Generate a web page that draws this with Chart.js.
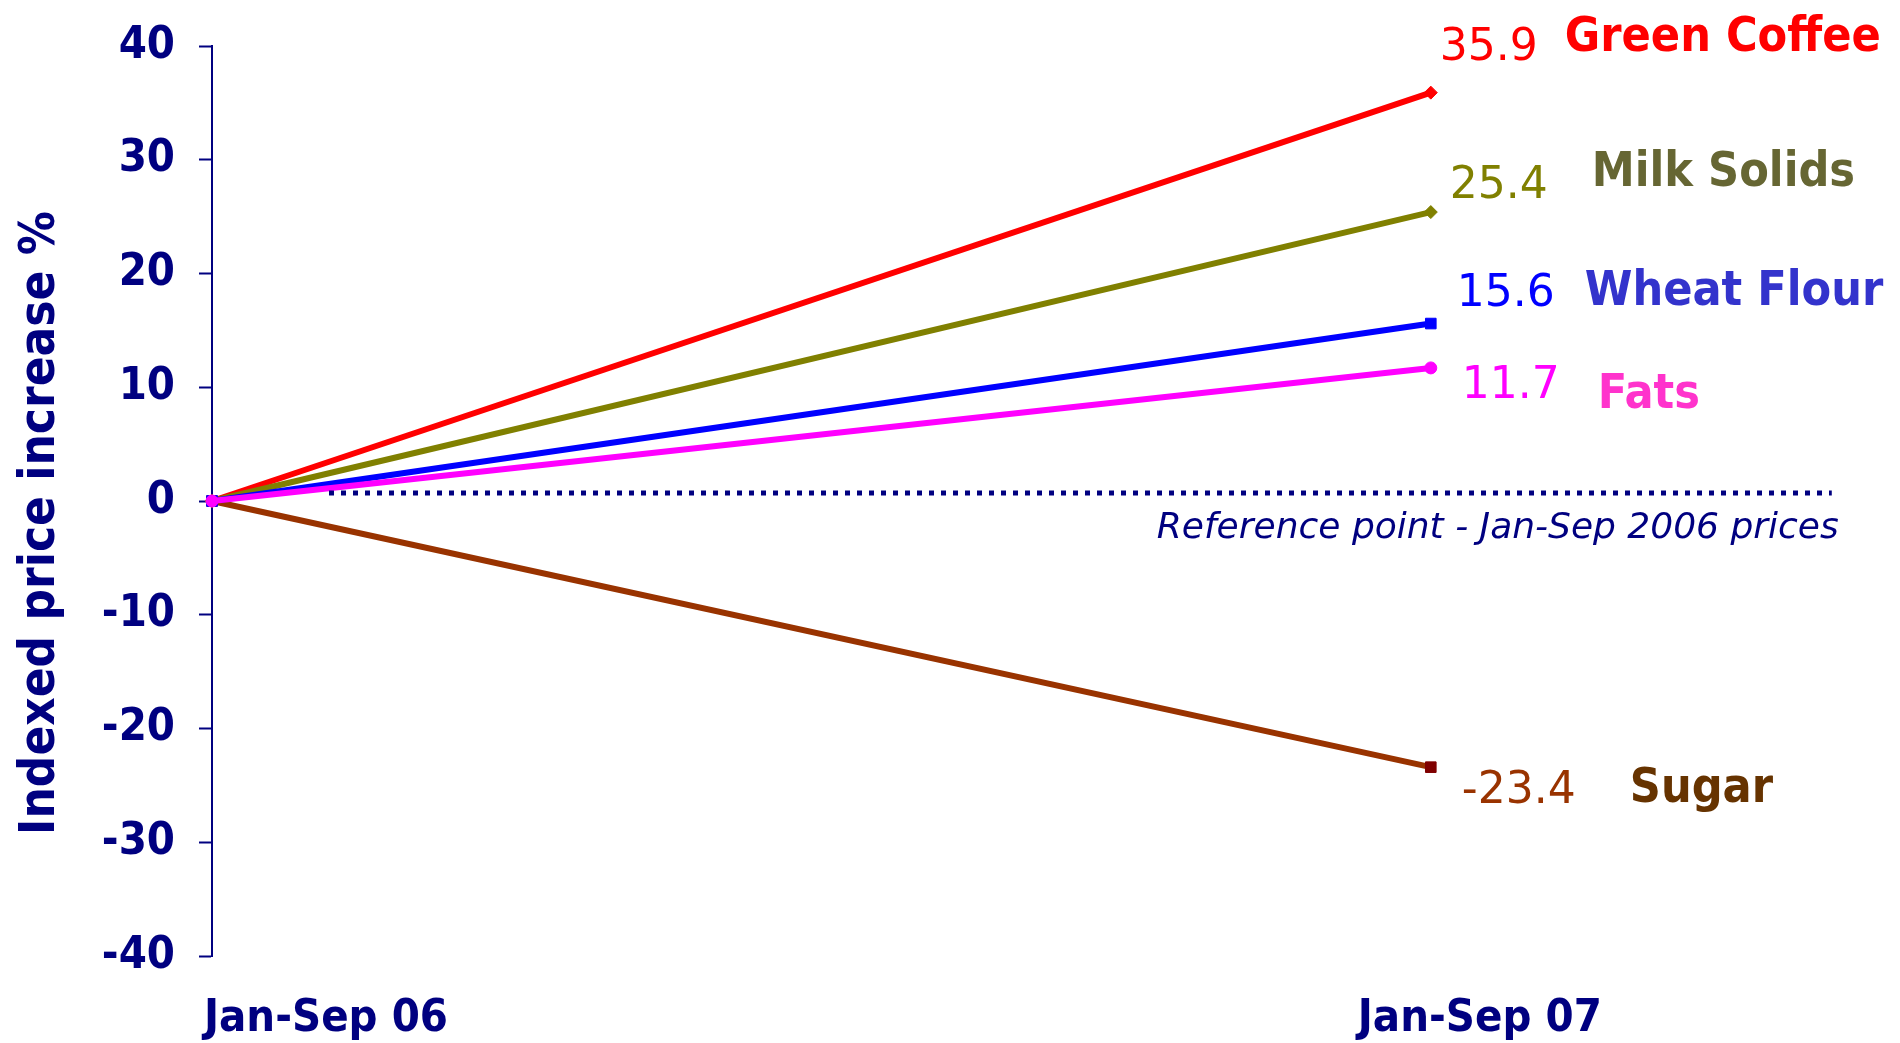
<!DOCTYPE html>
<html>
<head>
<meta charset="utf-8">
<script src="https://cdn.jsdelivr.net/npm/chart.js@4.4.1/dist/chart.umd.min.js"></script>
<style>
  html, body { margin: 0; padding: 0; background: #ffffff; overflow: hidden; }
  #wrap { width: 1900px; height: 1043px; }
</style>
</head>
<body>
<div id="wrap"><canvas id="chart" width="1900" height="1043"></canvas></div>
<script>
// ---- data ----
const periods = ['Jan-Sep 06', 'Jan-Sep 07'];
const seriesNames = ['Green Coffee', 'Milk Solids', 'Wheat Flour', 'Fats', 'Sugar'];
const greenCoffee = [0, 35.9];
const milkSolids  = [0, 25.4];
const wheatFlour  = [0, 15.6];
const fats        = [0, 11.7];
const sugar       = [0, -23.4];
const yTickValues = [-40, -30, -20, -10, 0, 10, 20, 30, 40];
const referenceLevel = [0.7, 0.7];
const referenceSpan  = [0.096, 1.329];
const referenceText  = 'Reference point - Jan-Sep 2006 prices';
const yAxisTitle     = 'Indexed price increase %';

const seriesValues = [greenCoffee, milkSolids, wheatFlour, fats, sugar];

// ---- styles ----
const NAVY = '#000080';
const BOLD_FAMILY = "'DejaVu Sans Condensed', 'DejaVu Sans', sans-serif";
const TEXT_FAMILY = "'DejaVu Sans', sans-serif";

const seriesStyle = [
  { line: '#FF0000', point: '#FF0000', shape: 'rectRot', radius: 6.5, order: 3, value: '#FF0000', name: '#FF0000' },
  { line: '#808000', point: '#808000', shape: 'rectRot', radius: 6.5, order: 2, value: '#808000', name: '#666633' },
  { line: '#0000FF', point: '#0000FF', shape: 'rect',    radius: 7.5, order: 1, value: '#0000FF', name: '#3333CC' },
  { line: '#FF00FF', point: '#FF00FF', shape: 'circle',  radius: 6,   order: 0, value: '#FF00FF', name: '#FF33CC' },
  { line: '#993300', point: '#800000', shape: 'rect',    radius: 7.5, order: 4, value: '#993300', name: '#663300' }
];
// text placement next to the last point of each line (value, then name)
const endLabelOffsets = [
  { vdx: 9,  vdy: -33, ndx: 134, ndy: -42 },
  { vdx: 19, vdy: -14, ndx: 161, ndy: -26 },
  { vdx: 26, vdy: -18, ndx: 154, ndy: -19 },
  { vdx: 31, vdy: 30,  ndx: 167, ndy: 40 },
  { vdx: 31, vdy: 36,  ndx: 199, ndy: 35 }
];
const periodLabelOffsets = [114, 49];

const datasets = seriesValues.map((vals, s) => ({
  label: seriesNames[s],
  data: vals.map((v, i) => ({ x: i, y: v })),
  borderColor: seriesStyle[s].line,
  backgroundColor: seriesStyle[s].point,
  borderWidth: 6,
  pointStyle: seriesStyle[s].shape,
  pointRadius: seriesStyle[s].radius,
  pointBorderWidth: 1,
  pointBorderColor: seriesStyle[s].point,
  pointBackgroundColor: seriesStyle[s].point,
  order: seriesStyle[s].order,
  clip: false,
  tension: 0
}));

datasets.push({
  label: 'reference',
  data: referenceSpan.map((x, i) => ({ x: x, y: referenceLevel[i] })),
  borderColor: NAVY,
  borderWidth: 5,
  borderDash: [5, 7],
  borderCapStyle: 'butt',
  pointRadius: 0,
  order: -1,
  clip: false
});

// rotated y-axis title
const yTitlePlugin = {
  id: 'yTitle',
  afterDraw(chart) {
    const { ctx, chartArea } = chart;
    const cy = (chartArea.top + chartArea.bottom) / 2 + 22;
    ctx.save();
    ctx.translate(54, cy);
    ctx.rotate(-Math.PI / 2);
    ctx.font = 'bold 49px ' + BOLD_FAMILY;
    ctx.fillStyle = NAVY;
    ctx.textAlign = 'center';
    ctx.textBaseline = 'alphabetic';
    ctx.fillText(yAxisTitle, 0, 0);
    ctx.restore();
  }
};

// period names under the axis
const periodLabelPlugin = {
  id: 'periodLabels',
  afterDraw(chart) {
    const { ctx, chartArea } = chart;
    const xs = chart.scales.x;
    ctx.save();
    ctx.font = 'bold 45px ' + BOLD_FAMILY;
    ctx.fillStyle = NAVY;
    ctx.textAlign = 'center';
    ctx.textBaseline = 'alphabetic';
    periods.forEach((p, i) => {
      ctx.fillText(p, xs.getPixelForValue(i) + periodLabelOffsets[i], chartArea.bottom + 75);
    });
    ctx.restore();
  }
};

// value and series name at the end of each line
const endLabelPlugin = {
  id: 'endLabels',
  afterDatasetsDraw(chart) {
    const { ctx } = chart;
    ctx.save();
    ctx.textAlign = 'left';
    ctx.textBaseline = 'alphabetic';
    seriesValues.forEach((vals, s) => {
      const meta = chart.getDatasetMeta(s);
      const pt = meta.data[vals.length - 1];
      const off = endLabelOffsets[s];
      const v = vals[vals.length - 1];
      ctx.font = '44px ' + TEXT_FAMILY;
      ctx.fillStyle = seriesStyle[s].value;
      ctx.fillText(v.toFixed(1), pt.x + off.vdx, pt.y + off.vdy);
      ctx.font = 'bold 48px ' + BOLD_FAMILY;
      ctx.fillStyle = seriesStyle[s].name;
      ctx.fillText(seriesNames[s], pt.x + off.ndx, pt.y + off.ndy);
    });
    ctx.restore();
  }
};

// caption under the reference line
const referenceTextPlugin = {
  id: 'referenceText',
  afterDatasetsDraw(chart) {
    const { ctx } = chart;
    const xs = chart.scales.x, ys = chart.scales.y;
    ctx.save();
    ctx.font = 'italic 36px ' + TEXT_FAMILY;
    ctx.fillStyle = NAVY;
    ctx.textAlign = 'right';
    ctx.textBaseline = 'alphabetic';
    ctx.fillText(referenceText, xs.getPixelForValue(referenceSpan[1]) + 7, ys.getPixelForValue(referenceLevel[1]) + 45);
    ctx.restore();
  }
};

new Chart(document.getElementById('chart'), {
  type: 'line',
  data: { datasets: datasets },
  options: {
    responsive: false,
    animation: false,
    events: [],
    layout: { padding: { top: 46, bottom: 87, left: 0, right: 0 } },
    plugins: { legend: { display: false }, tooltip: { enabled: false } },
    scales: {
      x: { type: 'linear', min: 0, max: 1.378, display: false },
      y: {
        type: 'linear',
        min: -40,
        max: 40,
        afterBuildTicks: (scale) => { scale.ticks = yTickValues.map(v => ({ value: v })); },
        afterFit: (scale) => {
          scale.width = 212;
          scale.paddingTop = 0;
          scale.paddingBottom = 0;
        },
        ticks: {
          color: NAVY,
          autoSkip: false,
          padding: 24,
          font: { family: BOLD_FAMILY, size: 45, weight: 'bold' }
        },
        grid: {
          drawOnChartArea: false,
          drawTicks: true,
          tickLength: 13,
          tickColor: NAVY,
          tickWidth: 2
        },
        border: { display: true, color: NAVY, width: 2 }
      }
    }
  },
  plugins: [yTitlePlugin, periodLabelPlugin, endLabelPlugin, referenceTextPlugin]
});
</script>
</body>
</html>
